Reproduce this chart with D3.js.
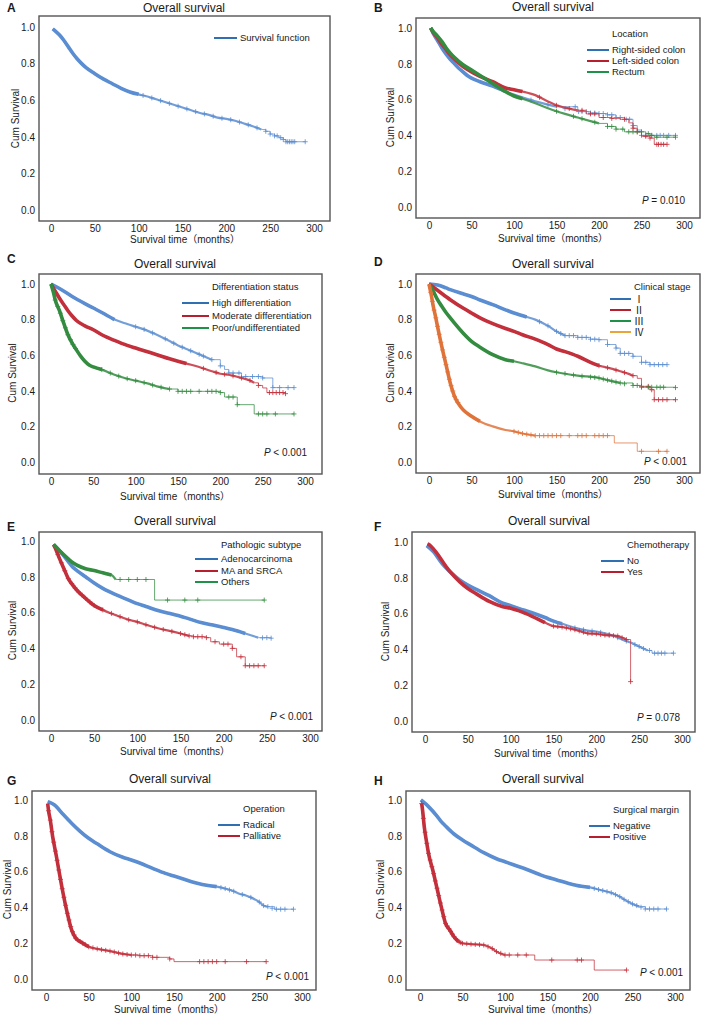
<!DOCTYPE html>
<html><head><meta charset="utf-8">
<script src="https://cdn.jsdelivr.net/npm/d3@7"></script>
<style>
body{margin:0;background:#fff}
svg{display:block}
text{font-family:"Liberation Sans",Arial,"Noto Sans CJK SC",sans-serif;fill:#1a1a1a}
</style>
</head><body>
<svg id="chart" width="703" height="1019"></svg>
<script>
// ---------- shared axis data ----------
const xTicks = [0, 50, 100, 150, 200, 250, 300];
const yTicks = [0, 0.2, 0.4, 0.6, 0.8, 1.0];
const chartTitle = "Overall survival";
const xTitle = "Survival time（months）";
const yTitle = "Cum Survival";
const panelIds = ["A","B","C","D","E","F","G","H"];
const legendTitles = [null, "Location", "Differentiation status", "Clinical stage", "Pathologic subtype", "Chemotherapy", "Operation", "Surgical margin"];
const pValues = [null, "= 0.010", "< 0.001", "< 0.001", "< 0.001", "= 0.078", "< 0.001", "< 0.001"];

// ---------- series: [time (months), cumulative survival] ----------
// A
const A_all = [[2,0.99],[5,0.978],[10,0.955],[15,0.925],[20,0.89],[25,0.855],[30,0.825],[35,0.8],[40,0.778],[50,0.745],[60,0.715],[70,0.69],[80,0.665],[90,0.645],[100,0.632],[110,0.62],[120,0.605],[130,0.59],[140,0.575],[150,0.56],[160,0.545],[170,0.53],[180,0.52],[190,0.505],[200,0.498],[210,0.488],[220,0.473],[230,0.458],[240,0.44],[245,0.43],[250,0.415],[255,0.405],[260,0.395],[265,0.385],[268,0.373],[290,0.373]];
const A_all_cens = [105,115,125,135,145,155,165,175,185,195,205,215,225,235,245,250,255,258,262,265,268,270,272,274,276,278,290];
// B
const B_right = [[2,1.0],[5,0.97],[10,0.93],[15,0.89],[20,0.855],[25,0.825],[30,0.8],[35,0.775],[40,0.755],[45,0.735],[50,0.72],[60,0.70],[75,0.675],[90,0.645],[100,0.628],[125,0.59],[150,0.56],[175,0.533],[190,0.525],[200,0.522],[210,0.515],[220,0.5],[230,0.49],[240,0.455],[245,0.43],[250,0.4],[290,0.4]];
const B_right_cens = [120,140,160,172,176,180,185,190,195,200,205,210,215,220,225,232,236,240,250,255,262,268,272,276,282,290];
const B_left = [[2,1.0],[5,0.975],[10,0.945],[15,0.91],[20,0.88],[25,0.85],[30,0.825],[40,0.785],[50,0.755],[60,0.73],[75,0.7],[90,0.665],[100,0.655],[110,0.645],[125,0.625],[140,0.59],[150,0.568],[160,0.555],[175,0.54],[185,0.52],[200,0.5],[215,0.495],[225,0.49],[235,0.47],[240,0.44],[245,0.42],[250,0.395],[260,0.385],[265,0.35],[280,0.35]];
const B_left_cens = [130,150,165,180,190,195,205,215,230,240,245,255,260,268,270,273,276,280];
const B_rectum = [[2,1.0],[5,0.98],[10,0.955],[15,0.925],[20,0.89],[25,0.86],[30,0.835],[40,0.795],[50,0.765],[60,0.735],[75,0.69],[90,0.645],[100,0.62],[110,0.605],[125,0.58],[140,0.552],[150,0.535],[160,0.52],[175,0.5],[190,0.48],[200,0.467],[210,0.45],[220,0.435],[230,0.42],[250,0.42],[255,0.41],[260,0.4],[265,0.39],[290,0.39]];
const B_rectum_cens = [150,170,180,195,210,215,220,228,235,240,245,250,258,262,268,280,290];
// C
const C_high = [[0,1.0],[10,0.975],[25,0.93],[40,0.89],[50,0.865],[60,0.84],[75,0.8],[90,0.775],[100,0.76],[110,0.745],[125,0.715],[140,0.68],[150,0.655],[160,0.635],[175,0.605],[190,0.575],[200,0.54],[205,0.52],[210,0.5],[225,0.48],[250,0.472],[262,0.418],[287,0.418]];
const C_high_cens = [100,110,120,135,145,155,165,175,180,190,200,210,215,222,230,238,245,250,262,270,280,287];
const C_mod = [[0,1.0],[5,0.96],[10,0.92],[15,0.885],[20,0.85],[25,0.82],[30,0.795],[40,0.765],[50,0.743],[60,0.715],[75,0.683],[90,0.655],[100,0.64],[110,0.625],[125,0.603],[140,0.58],[150,0.566],[160,0.553],[175,0.534],[190,0.51],[200,0.496],[210,0.49],[225,0.472],[235,0.458],[240,0.445],[245,0.43],[250,0.416],[255,0.39],[277,0.384]];
const C_mod_cens = [180,195,205,215,225,235,245,258,262,266,270,274,277];
const C_poor = [[0,1.0],[3,0.95],[5,0.91],[10,0.85],[15,0.78],[20,0.715],[25,0.668],[30,0.63],[35,0.595],[40,0.566],[45,0.545],[50,0.534],[60,0.519],[75,0.49],[90,0.468],[100,0.457],[115,0.44],[125,0.425],[140,0.41],[150,0.397],[200,0.39],[205,0.365],[220,0.322],[240,0.27],[287,0.27]];
const C_poor_cens = [5,8,11,14,17,20,23,26,29,60,70,80,90,100,110,120,130,140,150,155,160,165,175,185,190,195,200,210,215,220,245,250,255,265,287];
// D
const D_1 = [[0,1.0],[10,0.995],[20,0.978],[25,0.968],[40,0.945],[50,0.93],[60,0.91],[75,0.884],[90,0.855],[100,0.837],[115,0.815],[125,0.8],[140,0.765],[150,0.734],[160,0.71],[175,0.70],[190,0.69],[200,0.687],[210,0.66],[220,0.64],[225,0.61],[240,0.594],[250,0.56],[260,0.547],[280,0.547]];
const D_1_cens = [130,140,150,155,160,165,170,175,180,185,190,195,200,210,220,225,230,235,240,250,255,260,265,270,275,280];
const D_2 = [[0,1.0],[10,0.965],[25,0.912],[40,0.865],[50,0.837],[60,0.81],[75,0.777],[90,0.75],[100,0.734],[110,0.715],[125,0.69],[140,0.66],[150,0.635],[160,0.62],[175,0.594],[190,0.56],[200,0.541],[210,0.53],[225,0.51],[235,0.495],[240,0.485],[245,0.47],[250,0.425],[260,0.406],[265,0.35],[290,0.35]];
const D_2_cens = [200,210,220,230,240,250,258,262,265,270,275,280,290];
const D_3 = [[0,1.0],[5,0.96],[10,0.912],[15,0.875],[20,0.84],[25,0.81],[30,0.78],[40,0.725],[50,0.678],[60,0.645],[75,0.603],[90,0.575],[100,0.566],[110,0.555],[125,0.537],[140,0.515],[150,0.504],[175,0.485],[200,0.472],[210,0.46],[225,0.444],[240,0.43],[250,0.42],[290,0.418]];
const D_3_cens = [150,160,170,180,190,195,200,205,210,215,220,225,230,240,245,250,258,262,268,272,276,290];
const D_4 = [[0,1.0],[3,0.93],[5,0.875],[8,0.81],[10,0.762],[15,0.65],[20,0.547],[25,0.444],[30,0.369],[35,0.325],[40,0.294],[50,0.257],[60,0.228],[75,0.2],[90,0.18],[100,0.172],[110,0.16],[125,0.148],[218,0.107],[245,0.06],[280,0.06]];
const D_4_cens = [2,4,6,8,10,12,14,16,18,20,22,24,26,28,30,32,34,100,105,110,115,120,125,130,135,140,145,150,155,165,175,180,185,195,200,205,210,250,270,280];
// E
const E_adeno = [[3,0.98],[10,0.945],[20,0.885],[25,0.855],[30,0.835],[40,0.80],[50,0.765],[60,0.735],[75,0.70],[90,0.67],[100,0.65],[110,0.634],[125,0.61],[140,0.592],[150,0.58],[160,0.565],[175,0.543],[190,0.528],[200,0.517],[210,0.505],[225,0.483],[240,0.46],[255,0.457]];
const E_adeno_cens = [245,250,255];
const E_ma = [[3,0.98],[5,0.96],[10,0.9],[15,0.845],[20,0.79],[25,0.755],[30,0.725],[40,0.68],[50,0.64],[60,0.615],[75,0.586],[90,0.56],[100,0.548],[110,0.532],[125,0.511],[140,0.495],[150,0.483],[160,0.47],[165,0.465],[180,0.46],[185,0.437],[195,0.424],[210,0.40],[215,0.353],[225,0.303],[247,0.303]];
const E_ma_cens = [8,12,16,20,24,28,32,36,40,45,50,60,70,80,90,100,110,120,130,140,150,155,160,165,170,175,180,190,200,205,210,220,225,230,235,240,247];
const E_oth = [[3,0.98],[10,0.945],[20,0.9],[25,0.88],[30,0.865],[40,0.845],[50,0.835],[60,0.822],[70,0.81],[75,0.785],[120,0.67],[247,0.67]];
const E_oth_cens = [80,90,100,110,135,155,170,247];
// F
const F_no = [[2,0.98],[10,0.945],[20,0.88],[25,0.854],[30,0.83],[40,0.79],[50,0.76],[60,0.735],[75,0.70],[90,0.66],[100,0.644],[110,0.628],[125,0.605],[140,0.578],[150,0.558],[160,0.543],[175,0.52],[190,0.505],[200,0.50],[210,0.49],[220,0.476],[230,0.455],[240,0.438],[250,0.416],[260,0.394],[265,0.379],[290,0.379]];
const F_no_cens = [175,185,195,205,215,225,235,245,250,255,262,268,272,276,280,290];
const F_yes = [[3,0.99],[5,0.985],[10,0.96],[15,0.93],[20,0.895],[25,0.86],[30,0.83],[40,0.78],[50,0.74],[60,0.71],[75,0.668],[90,0.64],[100,0.63],[110,0.615],[125,0.585],[140,0.55],[150,0.53],[160,0.525],[175,0.51],[190,0.49],[200,0.487],[210,0.48],[225,0.475],[235,0.455],[240,0.22]];
const F_yes_cens = [150,155,160,165,170,175,180,185,190,195,200,205,210,215,220,225,230,235,240];
// G
const G_rad = [[2,0.99],[5,0.985],[10,0.972],[20,0.92],[25,0.895],[30,0.87],[40,0.825],[50,0.786],[60,0.755],[75,0.711],[90,0.68],[100,0.665],[110,0.648],[125,0.618],[140,0.59],[150,0.575],[160,0.56],[175,0.538],[190,0.522],[200,0.516],[210,0.505],[220,0.49],[225,0.479],[235,0.465],[240,0.456],[250,0.43],[255,0.41],[260,0.404],[268,0.39],[290,0.39]];
const G_rad_cens = [205,210,215,220,230,240,250,255,260,265,270,275,280,290];
const G_pal = [[2,0.98],[3,0.94],[5,0.888],[8,0.79],[10,0.739],[12,0.69],[15,0.609],[18,0.53],[20,0.479],[25,0.367],[30,0.274],[35,0.227],[40,0.209],[50,0.18],[60,0.168],[75,0.156],[90,0.14],[100,0.134],[110,0.13],[125,0.121],[145,0.112],[150,0.097],[258,0.097]];
const G_pal_cens = [3,5,7,9,11,13,15,17,19,21,23,25,27,29,31,33,35,37,40,43,46,50,55,60,65,70,75,80,85,90,95,100,105,110,115,120,125,130,145,180,185,190,195,200,210,235,258];
// H
const H_neg = [[1,1.0],[5,0.985],[10,0.963],[20,0.91],[25,0.879],[30,0.855],[40,0.81],[50,0.777],[60,0.748],[75,0.706],[90,0.672],[100,0.655],[110,0.638],[125,0.613],[140,0.585],[150,0.568],[160,0.555],[175,0.534],[190,0.518],[200,0.512],[210,0.5],[225,0.482],[235,0.46],[240,0.445],[250,0.419],[258,0.405],[265,0.391],[290,0.391]];
const H_neg_cens = [205,210,215,220,225,230,235,240,245,250,255,260,265,270,275,280,290];
const H_pos = [[2,0.98],[3,0.944],[5,0.851],[8,0.758],[10,0.702],[15,0.609],[20,0.507],[25,0.404],[30,0.311],[35,0.274],[40,0.236],[45,0.21],[50,0.199],[60,0.195],[75,0.19],[85,0.17],[90,0.153],[100,0.134],[135,0.106],[205,0.05],[243,0.05]];
const H_pos_cens = [2,4,6,8,10,12,14,16,18,20,22,24,26,28,30,32,34,36,38,40,42,44,46,48,50,55,60,65,70,75,80,85,90,95,100,105,115,125,155,185,190,243];

// ---------- colours ----------
const COL = {
  blue:  {line:"#5a8dd1", leg:"#2f6fb2"},
  red:   {line:"#c3303c", leg:"#b51f2e"},
  green: {line:"#338c40", leg:"#1f9148"},
  orange:{line:"#e0733a", leg:"#e8a53a"}
};

// ---------- panel definitions ----------
const panels = [
  {id:"A", frame:[39,16,330,221], xr:[51,314], yr:[210,27], title:[184,12], xt:[185,243], yt:15, letter:[7,12], legX:214, legLen:23, legTY:null, legRows:[38], p:null,
   series:[{name:"Survival function", data:A_all, cens:A_all_cens, c:"blue", dense:100, smooth:240}]},
  {id:"B", frame:[416,18,700,218], xr:[429,684], yr:[207,28], title:[553,11], xt:[553,242], yt:390, letter:[374,12], legX:587, legLen:22, legTY:34, legRows:[50,61,72], p:[685,204],
   series:[{name:"Right-sided colon", data:B_right, cens:B_right_cens, c:"blue", dense:90, smooth:170},
           {name:"Left-sided colon", data:B_left, cens:B_left_cens, c:"red", dense:110, smooth:175},
           {name:"Rectum", data:B_rectum, cens:B_rectum_cens, c:"green", dense:110, smooth:200}]},
  {id:"C", frame:[39,274,322,474], xr:[51,305], yr:[462,284], title:[175,268], xt:[175,500], yt:12, letter:[7,263], legX:182, legLen:27, legTY:287, legRows:[303,316,328], p:[307,456],
   series:[{name:"High differentiation", data:C_high, cens:C_high_cens, c:"blue", dense:80, smooth:195},
           {name:"Moderate differentiation", data:C_mod, cens:C_mod_cens, c:"red", dense:170, smooth:240},
           {name:"Poor/undifferentiated", data:C_poor, cens:C_poor_cens, c:"green", dense:60, smooth:140}]},
  {id:"D", frame:[416,274,700,473], xr:[429,684], yr:[462,284], title:[553,268], xt:[553,498], yt:390, letter:[374,266], legX:610, legLen:21, legTY:287, legRows:[299,310,321,332], p:[687,465], roman:true,
   series:[{name:"Ⅰ", data:D_1, cens:D_1_cens, c:"blue", dense:120, smooth:160},
           {name:"Ⅱ", data:D_2, cens:D_2_cens, c:"red", dense:200, smooth:240},
           {name:"Ⅲ", data:D_3, cens:D_3_cens, c:"green", dense:100, smooth:230},
           {name:"Ⅳ", data:D_4, cens:D_4_cens, c:"orange", dense:60, smooth:125}]},
  {id:"E", frame:[39,532,322,731], xr:[51,310], yr:[720,541], title:[175,525], xt:[175,755], yt:12, letter:[7,531], legX:195, legLen:23, legTY:545, legRows:[559,571,582], p:[313,720],
   series:[{name:"Adenocarcinoma", data:E_adeno, cens:E_adeno_cens, c:"blue", dense:235, smooth:245},
           {name:"MA and SRCA", data:E_ma, cens:E_ma_cens, c:"red", dense:60, smooth:160},
           {name:"Others", data:E_oth, cens:E_oth_cens, c:"green", dense:72, smooth:75}]},
  {id:"F", frame:[412,532,695,732], xr:[425,682], yr:[721,542], title:[549,525], xt:[549,757], yt:385, letter:[374,531], legX:601, legLen:23, legTY:545, legRows:[561,572], p:[680,721],
   series:[{name:"No", data:F_no, cens:F_no_cens, c:"blue", dense:170, smooth:260},
           {name:"Yes", data:F_yes, cens:F_yes_cens, c:"red", dense:140, smooth:235}]},
  {id:"G", frame:[32,791,316,990], xr:[46,302], yr:[979,800], title:[170,783], xt:[169,1013], yt:7, letter:[7,785], legX:218, legLen:22, legTY:809, legRows:[825,836], p:[309,980],
   series:[{name:"Radical", data:G_rad, cens:G_rad_cens, c:"blue", dense:200, smooth:265},
           {name:"Palliative", data:G_pal, cens:G_pal_cens, c:"red", dense:50, smooth:100}]},
  {id:"H", frame:[406,791,690,990], xr:[420,675], yr:[979,800], title:[543,783], xt:[543,1013], yt:380, letter:[374,785], legX:589, legLen:21, legTY:810, legRows:[826,837], p:[683,976],
   series:[{name:"Negative", data:H_neg, cens:H_neg_cens, c:"blue", dense:200, smooth:262},
           {name:"Positive", data:H_pos, cens:H_pos_cens, c:"red", dense:45, smooth:100}]}
];

const svg = d3.select("#chart");

function valueAt(data, t, smoothEnd){
  if (t <= smoothEnd){
    for (let i=0;i<data.length-1;i++){
      const a=data[i], b=data[i+1];
      if (t>=a[0] && t<=b[0]){ const f=(t-a[0])/(b[0]-a[0]||1); return a[1]+f*(b[1]-a[1]); }
    }
    return t<data[0][0]?data[0][1]:data[data.length-1][1];
  }
  let v=data[0][1];
  for (const d of data){ if (d[0]<=t) v=d[1]; }
  return v;
}

panels.forEach((P, pi) => {
  const g = svg.append("g");
  const x = d3.scaleLinear().domain([0,300]).range(P.xr);
  const y = d3.scaleLinear().domain([0,1]).range(P.yr);
  const [fx0,fy0,fx1,fy1] = P.frame;

  // axes (labels only)
  const ax = g.append("g").attr("transform",`translate(0,${fy1})`)
    .call(d3.axisBottom(x).tickValues(xTicks).tickSize(0).tickPadding(4).tickFormat(d3.format("d")));
  const ay = g.append("g").attr("transform",`translate(${fx0},0)`)
    .call(d3.axisLeft(y).tickValues(yTicks).tickSize(0).tickPadding(4).tickFormat(d3.format(".1f")));
  [ax,ay].forEach(a=>{ a.select(".domain").remove(); a.selectAll("text").attr("font-size",10).attr("fill","#1a1a1a").attr("font-family",'"Liberation Sans",Arial,sans-serif'); });

  // curves
  const lineSmooth = d3.line().x(d=>x(d[0])).y(d=>y(d[1])).curve(d3.curveMonotoneX);
  const lineStep = d3.line().x(d=>x(d[0])).y(d=>y(d[1])).curve(d3.curveStepAfter);
  const cg = g.append("g").attr("fill","none");
  P.series.forEach(s => {
    const col = COL[s.c].line;
    const smooth = s.data.filter(d=>d[0]<=s.smooth);
    const dense = s.data.filter(d=>d[0]<=s.dense);
    const lastSmooth = smooth[smooth.length-1][0];
    const tail = s.data.filter(d=>d[0]>=lastSmooth);
    if (tail.length>1) cg.append("path").attr("d",lineStep(tail)).attr("stroke",col).attr("stroke-width",1).attr("stroke-opacity",0.75);
    cg.append("path").attr("d",lineSmooth(smooth)).attr("stroke",col).attr("stroke-width",2.2).attr("stroke-opacity",0.85);
    if (dense.length>1) cg.append("path").attr("d",lineSmooth(dense)).attr("stroke",col).attr("stroke-width",3.6);
    const cp = s.cens.map(t=>{
      const px=x(t), py=y(valueAt(s.data,t,s.smooth));
      return `M${px-2.5},${py}h5M${px},${py-2.5}v5`;
    }).join("");
    cg.append("path").attr("d",cp).attr("stroke",col).attr("stroke-width",1).attr("stroke-opacity",0.8);
  });

  // frame
  g.append("rect").attr("x",fx0).attr("y",fy0).attr("width",fx1-fx0).attr("height",fy1-fy0)
    .attr("fill","none").attr("stroke","#555").attr("stroke-width",1.4);

  // titles
  g.append("text").attr("x",P.title[0]).attr("y",P.title[1]).attr("text-anchor","middle").attr("font-size",12).text(chartTitle);
  g.append("text").attr("x",P.xt[0]).attr("y",P.xt[1]).attr("text-anchor","middle").attr("font-size",10).text(xTitle);
  g.append("text").attr("transform",`translate(${P.yt},${(P.yr[0]+P.yr[1])/2}) rotate(-90)`).attr("text-anchor","middle")
    .attr("dy","0.35em").attr("font-size",10).text(yTitle);
  g.append("text").attr("x",P.letter[0]).attr("y",P.letter[1]).attr("font-size",12).attr("font-weight","bold").text(panelIds[pi]);

  // legend
  const tx = P.legX + P.legLen + 3;
  if (legendTitles[pi]) g.append("text").attr("x",tx).attr("y",P.legTY).attr("dy","0.35em").attr("font-size",9.5).text(legendTitles[pi]);
  P.series.forEach((s,i)=>{
    const ly = P.legRows[i];
    g.append("line").attr("x1",P.legX).attr("x2",P.legX+P.legLen).attr("y1",ly).attr("y2",ly)
      .attr("stroke",COL[s.c].leg).attr("stroke-width",2);
    const t = g.append("text").attr("x",tx).attr("y",ly).attr("dy","0.35em").attr("font-size",9.5).text(s.name);
    if (P.roman) t.attr("font-family",'"Liberation Serif","DejaVu Serif","Noto Sans CJK SC",serif').attr("font-size",10);
  });

  // p value
  if (P.p){
    const pt = g.append("text").attr("x",P.p[0]).attr("y",P.p[1]).attr("text-anchor","end").attr("font-size",10);
    pt.append("tspan").attr("font-style","italic").text("P");
    pt.append("tspan").text(" " + pValues[pi]);
  }
});
</script>
</body></html>
